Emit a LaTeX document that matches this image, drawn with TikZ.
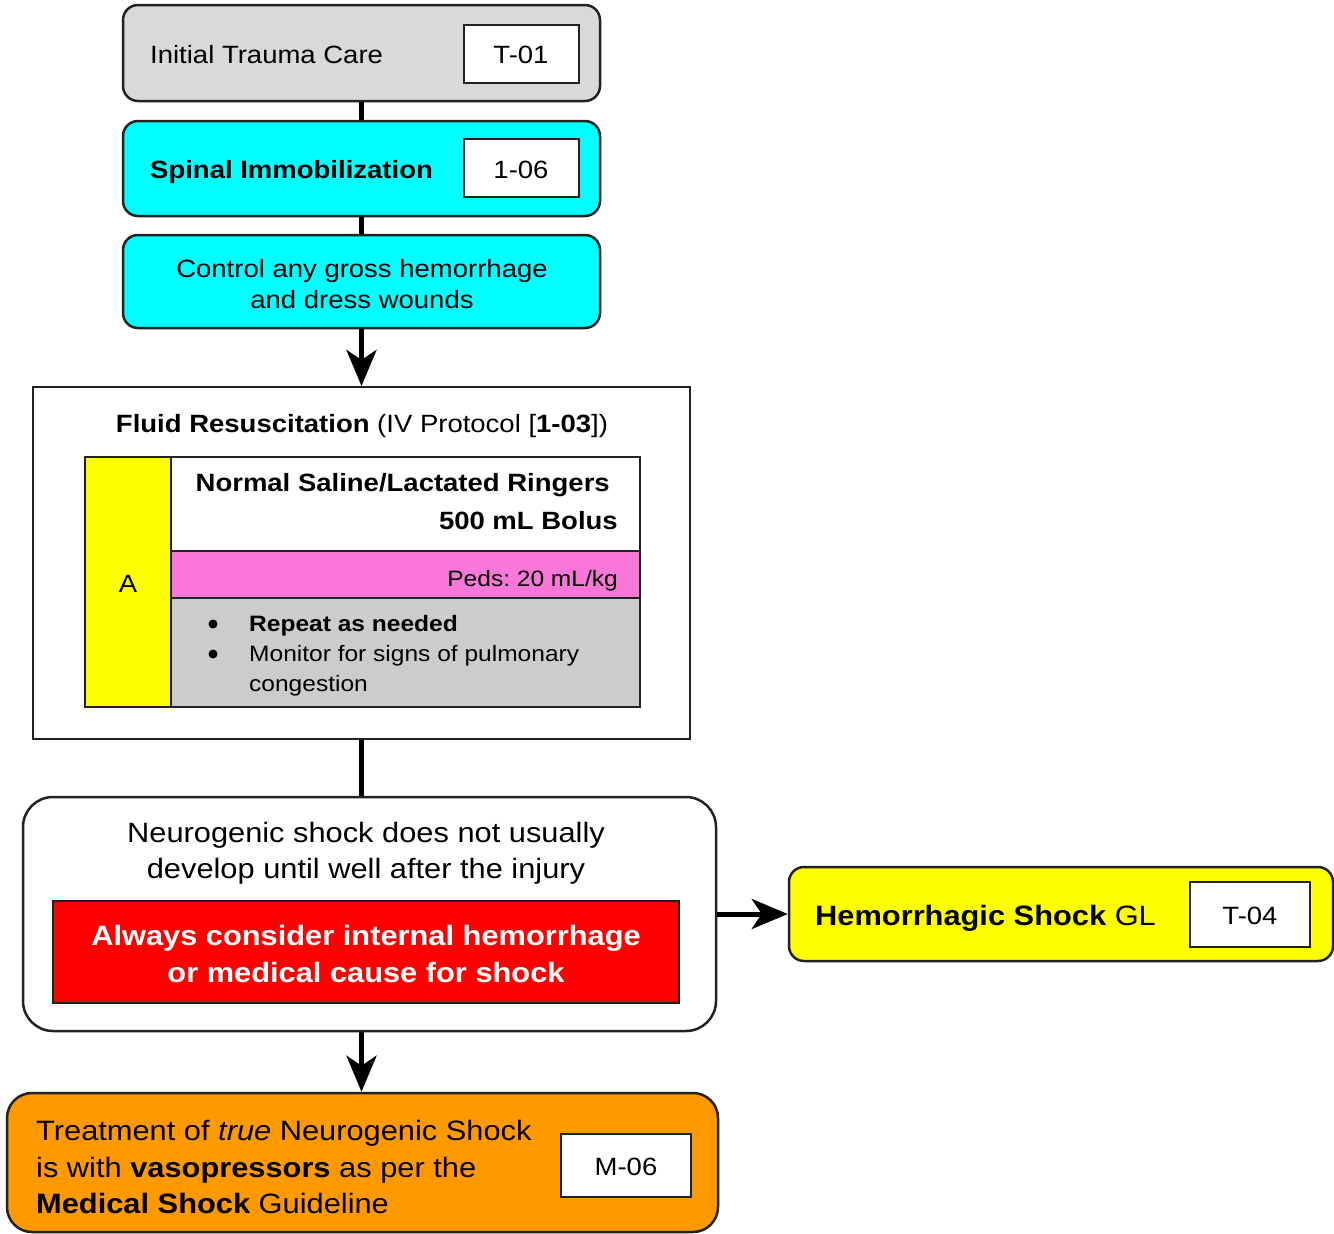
\documentclass[tikz,border=0pt]{standalone}
\usepackage{fontspec}
\setmainfont[FakeStretch=1.1]{Liberation Sans}
\usetikzlibrary{arrows.meta}
\frenchspacing
\definecolor{gbox}{HTML}{D9D9D9}
\definecolor{gcell}{HTML}{CCCCCC}
\definecolor{cyanbox}{HTML}{00FFFF}
\definecolor{ybox}{HTML}{FFFF00}
\definecolor{pinkcell}{HTML}{F877D8}
\definecolor{redbox}{HTML}{FF0000}
\definecolor{obox}{HTML}{FF9900}
\definecolor{edge}{HTML}{222222}
\tikzset{
  rbox/.style={draw=edge, line width=2.5pt, rounded corners=15pt, inner sep=0pt},
  sbox/.style={draw=edge, line width=2pt, inner sep=0pt, fill=white},
  cell/.style={draw=edge, line width=2pt, inner sep=0pt},
  txt/.style={inner sep=0pt, font=\fontsize{25}{30}\selectfont},
  txtb/.style={txt, font=\fontsize{25}{30}\selectfont\bfseries},
  ltxt/.style={inner sep=0pt, font=\fontsize{28}{33}\selectfont},
  ltxtb/.style={inner sep=0pt, font=\fontsize{28}{33}\selectfont\bfseries},
  stxt/.style={inner sep=0pt, font=\fontsize{22.3}{27}\selectfont},
  stxtb/.style={stxt, font=\fontsize{22.3}{27}\selectfont\bfseries},
  bullet/.style={circle, fill=black, inner sep=0pt, minimum size=9pt},
  conn/.style={line width=5pt, draw=black},
  arr/.style={conn, -{Stealth[length=36pt, width=30pt, inset=10pt]}},
}
\begin{document}
\begin{tikzpicture}[x=1pt,y=-1pt]
\useasboundingbox (0,0) rectangle (1334,1234);

% box 1
\node[rbox, fill=gbox, minimum width=477pt, minimum height=96pt] (b1) at (361.5,53) {};
\node[sbox, minimum width=115pt, minimum height=58pt] (r1) at (521,54) {};
\node[txt, anchor=base west] (t1) at (150,63) {Initial Trauma Care};
\node[txt, anchor=base] (t1r) at (521,63) {T-01};

% box 2
\node[rbox, fill=cyanbox, minimum width=477pt, minimum height=95pt] (b2) at (361.5,168.5) {};
\node[sbox, minimum width=115pt, minimum height=58pt] (r2) at (521,168) {};
\node[txtb, anchor=base west] (t2) at (150,178) {Spinal Immobilization};
\node[txt, anchor=base] (t2r) at (521,178) {1-06};

% box 3
\node[rbox, fill=cyanbox, minimum width=477pt, minimum height=93pt] (b3) at (361.5,281.5) {};
\node[txt, anchor=base] (t3a) at (362,277) {Control any gross hemorrhage};
\node[txt, anchor=base] (t3b) at (362,308) {and dress wounds};

% box 4
\node[draw=edge, line width=2pt, fill=white, minimum width=657pt, minimum height=352pt, inner sep=0pt] (b4) at (361.5,563) {};
\node[txt, anchor=base] (t4) at (362,432) {\textbf{Fluid Resuscitation} (IV Protocol [\textbf{1-03}])};
\node[cell, fill=ybox, minimum width=86pt, minimum height=250pt] (ca) at (128,582) {};
\node[cell, fill=white, minimum width=469pt, minimum height=94pt] (cw) at (405.5,504) {};
\node[cell, fill=pinkcell, minimum width=469pt, minimum height=47pt] (cp) at (405.5,574.5) {};
\node[cell, fill=gcell, minimum width=469pt, minimum height=109pt] (cg) at (405.5,652.5) {};
\node[txt, anchor=base] (ta) at (128,592) {A};
\node[txtb, anchor=base east] (tw1) at (610,491) {Normal Saline/Lactated Ringers};
\node[txtb, anchor=base east] (tw2) at (618,529) {500 mL Bolus};
\node[stxt, anchor=base east] (tp) at (618,586) {Peds: 20 mL/kg};
\node[bullet] (bu1) at (213,624) {};
\node[bullet] (bu2) at (213,654) {};
\node[stxtb, anchor=base west] (tg1) at (249,631) {Repeat as needed};
\node[stxt, anchor=base west] (tg2) at (249,661) {Monitor for signs of pulmonary};
\node[stxt, anchor=base west] (tg3) at (249,691) {congestion};

% box 5
\node[rbox, rounded corners=30pt, fill=white, minimum width=693pt, minimum height=234pt] (b5) at (369.5,914) {};
\node[ltxt, anchor=base] (t5a) at (366,842) {Neurogenic shock does not usually};
\node[ltxt, anchor=base] (t5b) at (366,878) {develop until well after the injury};
\node[cell, fill=redbox, minimum width=626pt, minimum height=102pt] (red) at (366,952) {};
\node[ltxtb, anchor=base, text=white] (tr1) at (366,945) {Always consider internal hemorrhage};
\node[ltxtb, anchor=base, text=white] (tr2) at (366,982) {or medical cause for shock};

% box 7
\node[rbox, fill=ybox, minimum width=544pt, minimum height=94pt] (b7) at (1061,914) {};
\node[sbox, minimum width=120pt, minimum height=65pt] (r7) at (1250,914.5) {};
\node[ltxt, anchor=base west] (t7) at (815,925) {\textbf{Hemorrhagic Shock} GL};
\node[txt, anchor=base] (t7r) at (1250,924) {T-04};

% box 6
\node[rbox, rounded corners=25pt, fill=obox, minimum width=711pt, minimum height=139pt] (b6) at (362.5,1162.5) {};
\node[sbox, minimum width=130pt, minimum height=63pt] (r6) at (626,1165.5) {};
\node[ltxt, anchor=base west] (t6a) at (36,1140) {Treatment of \textit{true} Neurogenic Shock};
\node[ltxt, anchor=base west] (t6b) at (36,1177) {is with \textbf{vasopressors} as per the};
\node[ltxt, anchor=base west] (t6c) at (36,1213) {\textbf{Medical Shock} Guideline};
\node[txt, anchor=base] (t6r) at (626,1175) {M-06};

% connectors
\draw[conn] (b1.south) -- (b2.north);
\draw[conn] (b2.south) -- (b3.north);
\draw[arr] (b3.south) -- (b4.north);
\draw[conn] (b4.south) -- (b5.north -| b4.south);
\draw[arr] (b5.south -| b4.south) -- (b6.north -| b4.south);
\draw[arr] (b5.east) -- (b7.west);
\end{tikzpicture}
\end{document}
